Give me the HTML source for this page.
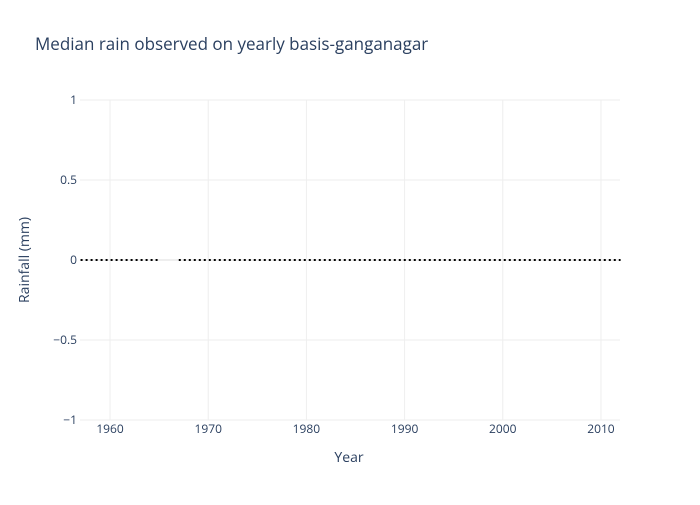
<!DOCTYPE html>
<html><head><meta charset="utf-8"><style>
body{margin:0;background:#fff;}
svg{font-family:"Open Sans","Liberation Sans",sans-serif;}
</style></head><body>
<svg id="chart" width="700" height="500">
<rect width="700" height="500" fill="#fff"/>
<text x="35" y="50" font-size="17" fill="#2a3f5f">Median rain observed on yearly basis-ganganagar</text>
<g id="grid"></g>
<g id="axes"></g>
<g id="series"></g>
<text x="349" y="462" font-size="14" fill="#2a3f5f" text-anchor="middle">Year</text>
<text transform="translate(29,260) rotate(-90)" font-size="14" fill="#2a3f5f" text-anchor="middle">Rainfall (mm)</text>
</svg>
<script>
const years = [];
for (let y = 1957; y <= 2012; y++) years.push(y);
const rainfall = years.map(y => y === 1966 ? null : 0);
const xTicks = [1960, 1970, 1980, 1990, 2000, 2010];
const yTicks = [-1, -0.5, 0, 0.5, 1];
const yTickLabels = ["−1", "−0.5", "0", "0.5", "1"];

const L = 80, R = 620, T = 100, B = 420;
const xMin = 1956.94, xMax = 2011.94, yMin = -1, yMax = 1;
const xs = v => L + (v - xMin) / (xMax - xMin) * (R - L);
const ys = v => B - (v - yMin) / (yMax - yMin) * (B - T);
const NS = "http://www.w3.org/2000/svg";
const grid = document.getElementById('grid'), axes = document.getElementById('axes'), series = document.getElementById('series');
function mk(tag, attrs, parent) { const e = document.createElementNS(NS, tag); for (const k in attrs) e.setAttribute(k, attrs[k]); parent.appendChild(e); return e; }

xTicks.forEach(t => {
  const g = mk('line', {x1: xs(t), x2: xs(t), y1: T, y2: B, stroke: '#eeeeee', 'stroke-width': 1}, grid);
  
  
  const lb = mk('text', {x: xs(t), y: B + 13, 'font-size': 12, fill: '#2a3f5f', 'text-anchor': 'middle'}, axes);
  lb.textContent = t;
  
  
});
yTicks.forEach((t, i) => {
  const g = mk('line', {x1: L, x2: R, y1: ys(t), y2: ys(t), stroke: '#eeeeee', 'stroke-width': t === 0 ? 2 : 1}, grid);
  
  
  const lb = mk('text', {x: L - 3, y: ys(t) + 4, 'font-size': 12, fill: '#2a3f5f', 'text-anchor': 'end'}, axes);
  lb.textContent = yTickLabels[i];
  
  
});

let segs = [], cur = [];
years.forEach((y, i) => {
  if (rainfall[i] === null) { if (cur.length) segs.push(cur); cur = []; }
  else cur.push([xs(y), ys(rainfall[i])]);
});
if (cur.length) segs.push(cur);
segs.forEach(s => {
  const p = mk('path', {d: 'M' + s.map(p => p.join(',')).join('L'), fill: 'none', stroke: '#000', 'stroke-width': 2, 'stroke-dasharray': '2,3'}, series);
  
  
});
</script>
</body></html>
